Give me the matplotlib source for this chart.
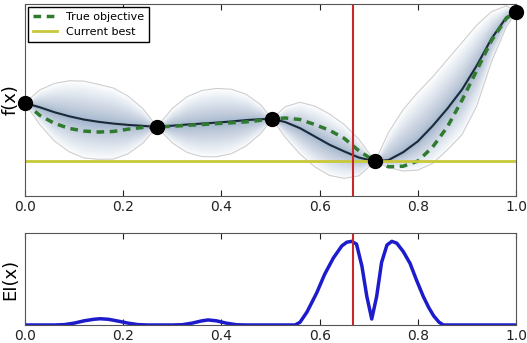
import numpy as np
import matplotlib
matplotlib.use('Agg')
import matplotlib.pyplot as plt

# grid along x (includes the sampled points)
xs = [0.0, 0.03, 0.06, 0.09, 0.12, 0.15, 0.18, 0.21, 0.24, 0.269,
      0.30, 0.33, 0.36, 0.39, 0.42, 0.45, 0.48, 0.503,
      0.53, 0.56, 0.59, 0.62, 0.65, 0.68, 0.713,
      0.74, 0.77, 0.80, 0.83, 0.86, 0.89, 0.92, 0.95, 0.98, 1.0]

# GP posterior mean
gp_mean = [0.484, 0.462, 0.436, 0.415, 0.398, 0.386, 0.377, 0.370, 0.365, 0.360,
           0.366, 0.372, 0.377, 0.382, 0.388, 0.395, 0.400, 0.401,
           0.385, 0.353, 0.310, 0.267, 0.232, 0.200, 0.180,
           0.187, 0.228, 0.285, 0.365, 0.455, 0.555, 0.680, 0.820, 0.930, 0.958]

# upper / lower edge of the confidence band
gp_upper = [0.484, 0.552, 0.586, 0.600, 0.598, 0.581, 0.562, 0.520, 0.455, 0.360,
            0.456, 0.517, 0.549, 0.560, 0.556, 0.530, 0.475, 0.401,
            0.465, 0.488, 0.468, 0.427, 0.372, 0.295, 0.180,
            0.330, 0.450, 0.540, 0.620, 0.710, 0.800, 0.890, 0.960, 0.990, 0.958]
gp_lower = [0.484, 0.372, 0.286, 0.230, 0.198, 0.191, 0.192, 0.220, 0.275, 0.360,
            0.276, 0.227, 0.205, 0.204, 0.220, 0.260, 0.325, 0.401,
            0.305, 0.218, 0.152, 0.107, 0.092, 0.105, 0.180,
            0.148, 0.130, 0.135, 0.170, 0.240, 0.320, 0.470, 0.700, 0.880, 0.958]

# true objective
f_true = [0.484, 0.420, 0.378, 0.352, 0.338, 0.333, 0.336, 0.348, 0.357, 0.360,
          0.363, 0.368, 0.372, 0.377, 0.381, 0.386, 0.394, 0.401,
          0.406, 0.398, 0.372, 0.342, 0.300, 0.235, 0.180,
          0.152, 0.155, 0.182, 0.255, 0.360, 0.500, 0.655, 0.810, 0.925, 0.958]

# observed samples
obs_x = [0.0, 0.269, 0.503, 0.713, 1.0]
obs_y = [0.484, 0.360, 0.401, 0.180, 0.958]
best_y = 0.180
next_x = 0.667

# expected improvement
ei_x = [0.0, 0.06, 0.08, 0.10, 0.12, 0.14, 0.153, 0.17, 0.19, 0.21, 0.23, 0.25,
        0.30, 0.32, 0.34, 0.36, 0.373, 0.39, 0.41, 0.43, 0.45,
        0.55, 0.56, 0.574, 0.594, 0.61, 0.628, 0.645, 0.655, 0.665, 0.675, 0.686,
        0.696, 0.706, 0.716, 0.726, 0.737, 0.747, 0.757, 0.77, 0.784, 0.797,
        0.811, 0.822, 0.832, 0.843, 0.852, 1.0]
ei_y = [0.0, 0.0, 0.004, 0.02, 0.045, 0.062, 0.068, 0.062, 0.042, 0.02, 0.004, 0.0,
        0.0, 0.003, 0.02, 0.045, 0.055, 0.045, 0.02, 0.003, 0.0,
        0.0, 0.03, 0.14, 0.35, 0.55, 0.73, 0.86, 0.90, 0.91, 0.88, 0.64,
        0.31, 0.065, 0.31, 0.68, 0.87, 0.91, 0.89, 0.80, 0.67, 0.49,
        0.31, 0.19, 0.10, 0.03, 0.0, 0.0]

x = np.array(xs)
mu = np.array(gp_mean)
up = np.array(gp_upper)
lo = np.array(gp_lower)

fig = plt.figure(figsize=(5.27, 3.43), dpi=100)
ax1 = fig.add_axes([0.0474, 0.4286, 0.932, 0.560])
ax2 = fig.add_axes([0.0474, 0.0525, 0.932, 0.268])

# shaded band, darker close to the mean
for k in np.linspace(1.0, 0.1, 30) ** 1.6:
    ax1.fill_between(x, mu - k * (mu - lo), mu + k * (up - mu),
                     color='#4a6fa8', alpha=0.018, lw=0)
ax1.plot(x, up, color='#cfcfcf', lw=0.8)
ax1.plot(x, lo, color='#cfcfcf', lw=0.8)

ax1.plot(x, mu, color='#1c2a38', lw=1.5)
ax1.plot(xs, f_true, color='#2f7a2f', lw=2.5, dashes=(2.2, 1.6), label='True objective')
ax1.axhline(best_y, color='#c8c83a', lw=2, label='Current best')
ax1.axvline(next_x, color='#c8282a', lw=1.5)
ax1.plot(obs_x, obs_y, 'o', color='black', ms=10, clip_on=False, zorder=5)

ax1.set_xlim(0, 1)
ax1.set_ylim(0, 1)
ax1.set_yticks([])
ax1.set_ylabel('f(x)', fontsize=13, labelpad=4)
leg = ax1.legend(loc='upper left', fontsize=8, fancybox=False, framealpha=1,
                 handlelength=2.2, borderaxespad=0.3)
leg.get_frame().set_edgecolor('black')

ax2.plot(ei_x, ei_y, color='#1c1ccc', lw=2.5)
ax2.axvline(next_x, color='#c8282a', lw=1.5)
ax2.set_xlim(0, 1)
ax2.set_ylim(0, 1)
ax2.set_yticks([])
ax2.set_ylabel('EI(x)', fontsize=13, labelpad=4)

for ax in (ax1, ax2):
    ax.set_xticks([0.0, 0.2, 0.4, 0.6, 0.8, 1.0])
    ax.tick_params(axis='x', direction='in', top=True, length=4, pad=3,
                   labelsize=10, colors='#222222')
    for s in ax.spines.values():
        s.set_color('#555555')

plt.savefig('out.png', dpi=100)
